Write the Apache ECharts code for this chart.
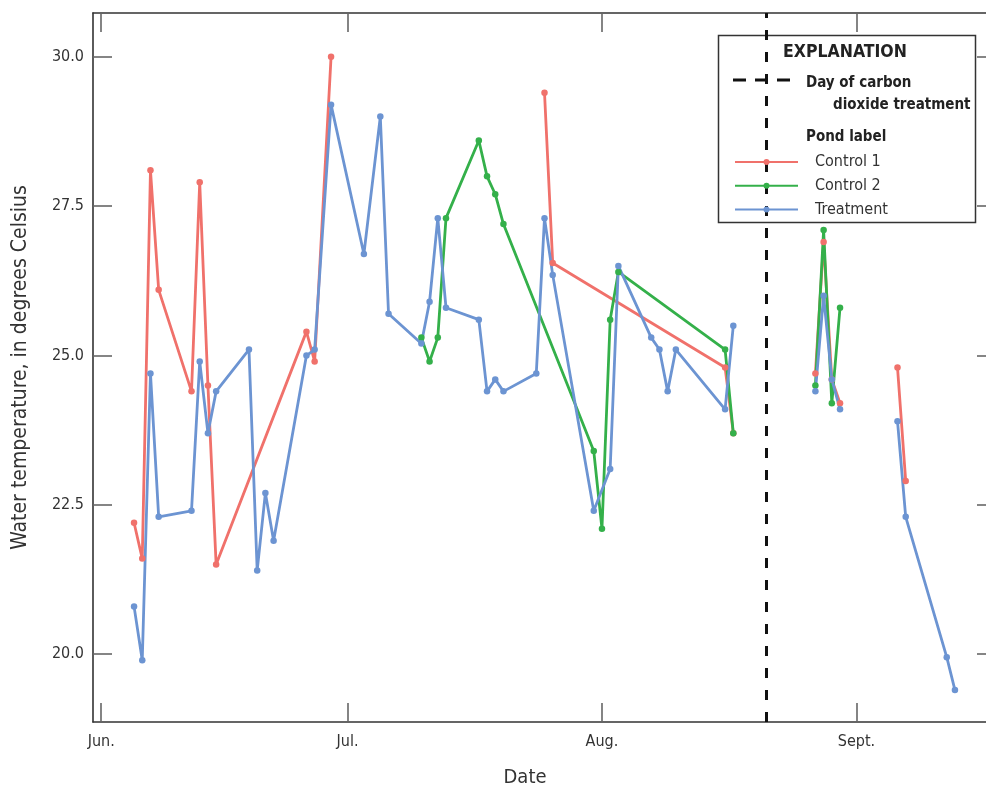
<!DOCTYPE html>
<html><head><meta charset="utf-8">
<script src="https://cdn.jsdelivr.net/npm/echarts@6/dist/echarts.min.js"></script>
<style>html,body{margin:0;padding:0;background:#fff;overflow:hidden;width:986px;height:793px}#c{width:996px;height:793px}</style>
</head><body><div id="c"></div>
<script>
const FONT = '"Liberation Sans Narrow","DejaVu Sans Condensed","Roboto Condensed",sans-serif';

const monthTickDates = ['06-01', '07-01', '08-01', '09-01'];
const monthTickLabels = ['Jun.', 'Jul.', 'Aug.', 'Sept.'];
const yTickValues = [20, 22.5, 25, 27.5, 30];
const treatmentDate = '08-21';
const seriesNames = ['Control 1', 'Control 2', 'Treatment'];
const seriesColors = ['#F0716B', '#34B04A', '#6C94D2'];

// null marks a break in the line
const control1Dates = ['06-05','06-06','06-07','06-08','06-12','06-13','06-14','06-15','06-26','06-27','06-29', null,
  '07-25','07-26','08-16','08-17', null, '08-27','08-28','08-29','08-30', null, '09-06','09-07'];
const control1Values = [22.2, 21.6, 28.1, 26.1, 24.4, 27.9, 24.5, 21.5, 25.4, 24.9, 30.0, null,
  29.4, 26.55, 24.8, 23.7, null, 24.7, 26.9, 24.6, 24.2, null, 24.8, 22.9];

const control2Dates = ['07-10','07-11','07-12','07-13','07-17','07-18','07-19','07-20','07-31','08-01','08-02','08-03','08-16','08-17', null,
  '08-27','08-28','08-29','08-30'];
const control2Values = [25.3, 24.9, 25.3, 27.3, 28.6, 28.0, 27.7, 27.2, 23.4, 22.1, 25.6, 26.4, 25.1, 23.7, null,
  24.5, 27.1, 24.2, 25.8];

const treatmentDates = ['06-05','06-06','06-07','06-08','06-12','06-13','06-14','06-15','06-19','06-20','06-21','06-22','06-26','06-27','06-29',
  '07-03','07-05','07-06','07-10','07-11','07-12','07-13','07-17','07-18','07-19','07-20','07-24','07-25','07-26','07-31',
  '08-02','08-03','08-07','08-08','08-09','08-10','08-16','08-17', null,
  '08-27','08-28','08-29','08-30', null, '09-06','09-07','09-12','09-13'];
const treatmentValues = [20.8, 19.9, 24.7, 22.3, 22.4, 24.9, 23.7, 24.4, 25.1, 21.4, 22.7, 21.9, 25.0, 25.1, 29.2,
  26.7, 29.0, 25.7, 25.2, 25.9, 27.3, 25.8, 25.6, 24.4, 24.6, 24.4, 24.7, 27.3, 26.35, 22.4,
  23.1, 26.5, 25.3, 25.1, 24.4, 25.1, 24.1, 25.5, null,
  24.4, 26.0, 24.6, 24.1, null, 23.9, 22.3, 19.95, 19.4];

function dayOf(s) {
  const p = s.split('-').map(Number);
  return (Date.UTC(2021, p[0] - 1, p[1]) - Date.UTC(2021, 5, 1)) / 86400000;
}
function pairs(dates, vals) {
  return dates.map((d, i) => d === null ? [null, null] : [dayOf(d), vals[i]]);
}
const monthTicks = monthTickDates.map(dayOf);
const xMin = dayOf('05-31'), xMax = dayOf('09-18');
const yMin = 18.865, yMax = 30.734;

const chart = echarts.init(document.getElementById('c'), null, {renderer: 'canvas', width: 996, height: 793});
const tickStyle = {show: true, inside: true, length: 19, lineStyle: {color: '#666', width: 1.6}};
const lineAx = {show: true, onZero: false, lineStyle: {color: '#333', width: 1.6}};

function mkSeries(name, idx, data, extra) {
  return Object.assign({
    name: name, type: 'line', data: data, connectNulls: false,
    symbol: 'circle', symbolSize: 6.5, showSymbol: true,
    lineStyle: {width: 2.8, color: seriesColors[idx]},
    itemStyle: {color: seriesColors[idx]},
    animation: false, z: 2
  }, extra || {});
}

chart.setOption({
  animation: false,
  textStyle: {fontFamily: FONT},
  grid: {left: 93, top: 13, right: 0, bottom: 69, containLabel: false},
  xAxis: [{
    type: 'value', position: 'bottom', min: xMin, max: xMax,
    axisLine: lineAx, splitLine: {show: false},
    axisTick: Object.assign({customValues: monthTicks}, tickStyle),
    axisLabel: {customValues: monthTicks, margin: 12, fontSize: 16, color: '#333', fontFamily: FONT,
      formatter: v => monthTickLabels[monthTicks.indexOf(v)] || ''},
    name: 'Date', nameLocation: 'middle', nameGap: 46,
    nameTextStyle: {fontSize: 20, color: '#333', fontFamily: FONT, padding: [0, 39, 0, 0]}
  }, {
    type: 'value', position: 'top', min: xMin, max: xMax,
    axisLine: lineAx, splitLine: {show: false},
    axisTick: Object.assign({customValues: monthTicks}, tickStyle),
    axisLabel: {show: false}
  }],
  yAxis: [{
    type: 'value', position: 'left', min: yMin, max: yMax,
    axisLine: lineAx, splitLine: {show: false},
    axisTick: Object.assign({customValues: yTickValues}, tickStyle),
    axisLabel: {customValues: yTickValues, margin: 9, fontSize: 16, color: '#333', fontFamily: FONT,
      formatter: v => v.toFixed(1)},
    name: 'Water temperature, in degrees Celsius', nameLocation: 'middle', nameGap: 62,
    nameTextStyle: {fontSize: 21, color: '#333', fontFamily: FONT}
  }, {
    type: 'value', position: 'right', min: yMin, max: yMax,
    axisLine: lineAx, splitLine: {show: false},
    axisTick: Object.assign({customValues: yTickValues}, tickStyle),
    axisLabel: {show: false}
  }],
  legend: {
    data: seriesNames, orient: 'vertical', left: 734, top: 154, padding: 0,
    itemWidth: 63, itemHeight: 7.5, itemGap: 7.7, z: 6,
    textStyle: {fontSize: 16, lineHeight: 14, color: '#333', fontFamily: FONT, padding: [0, 0, 0, 12]}
  },
  graphic: [
    {type: 'rect', z: 5, shape: {x: 718.5, y: 35.5, width: 257, height: 187},
      style: {fill: '#fff', stroke: '#333', lineWidth: 1.5}},
    {type: 'text', z: 6, x: 845, y: 52, style: {text: 'EXPLANATION', font: 'bold 17.5px ' + FONT,
      fill: '#222', textAlign: 'center', textVerticalAlign: 'middle'}},
    {type: 'line', z: 6, shape: {x1: 733, y1: 80, x2: 791, y2: 80},
      style: {stroke: '#111', lineWidth: 3, lineDash: [13, 9]}},
    {type: 'text', z: 6, x: 806, y: 83, style: {text: 'Day of carbon', font: 'bold 15px ' + FONT,
      fill: '#222', textAlign: 'left', textVerticalAlign: 'middle'}},
    {type: 'text', z: 6, x: 833, y: 105, style: {text: 'dioxide treatment', font: 'bold 15px ' + FONT,
      fill: '#222', textAlign: 'left', textVerticalAlign: 'middle'}},
    {type: 'text', z: 6, x: 806, y: 137, style: {text: 'Pond label', font: 'bold 15px ' + FONT,
      fill: '#222', textAlign: 'left', textVerticalAlign: 'middle'}}
  ],
  series: [
    mkSeries(seriesNames[0], 0, pairs(control1Dates, control1Values), {
      markLine: {silent: true, symbol: 'none', animation: false, label: {show: false},
        lineStyle: {color: '#111', width: 3, type: [10, 12]},
        data: [{xAxis: dayOf(treatmentDate)}]}
    }),
    mkSeries(seriesNames[1], 1, pairs(control2Dates, control2Values)),
    mkSeries(seriesNames[2], 2, pairs(treatmentDates, treatmentValues))
  ]
});
</script></body></html>
